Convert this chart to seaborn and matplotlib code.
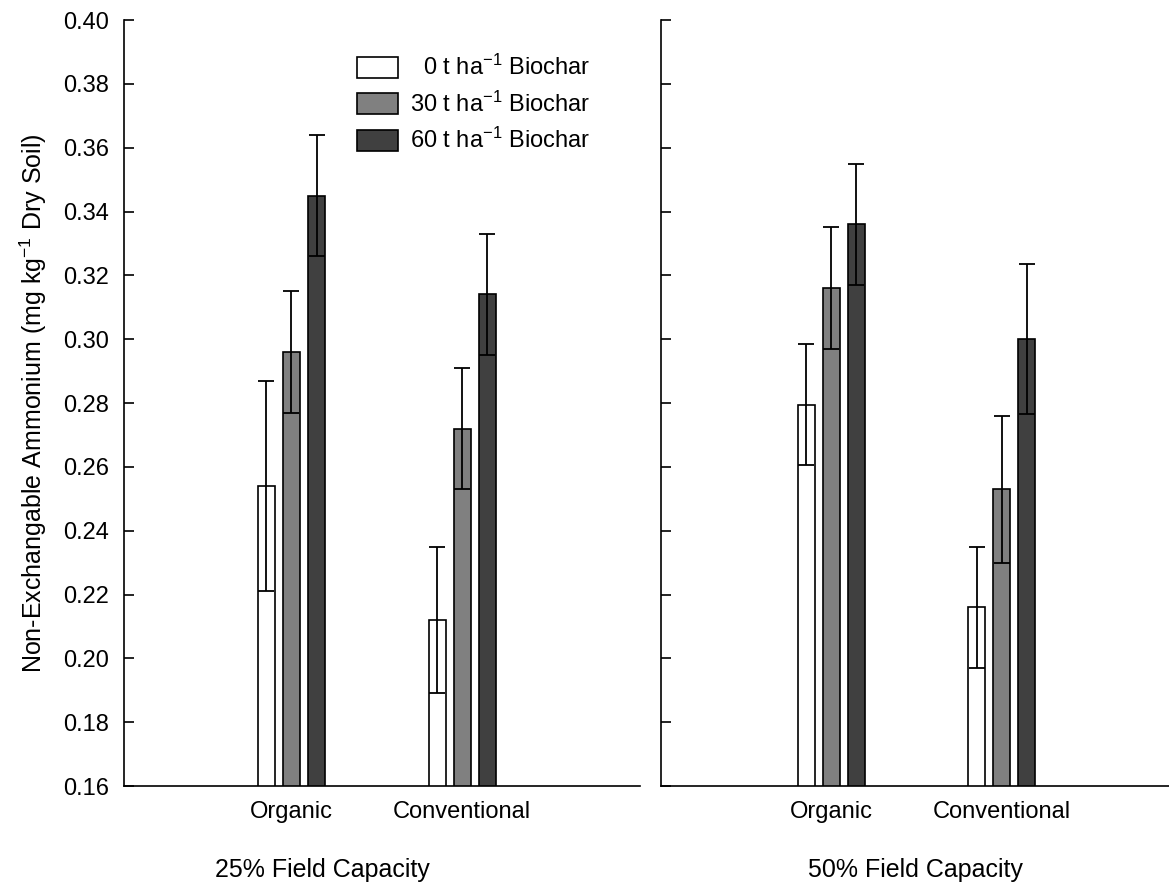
import numpy as np
import pandas as pd
import matplotlib
matplotlib.use('Agg')
import matplotlib.pyplot as plt
import matplotlib.patches as mpatches
import seaborn as sns

systems = ['Organic', 'Conventional']
rates = ['  0 t ha$^{-1}$ Biochar', '30 t ha$^{-1}$ Biochar', '60 t ha$^{-1}$ Biochar']
panels = ['25% Field Capacity', '50% Field Capacity']
colors = ['#ffffff', '#808080', '#404040']

# rows = biochar rate, cols = Organic, Conventional
mean_25 = [[0.254, 0.212], [0.296, 0.272], [0.345, 0.314]]
err_25 = [[0.033, 0.023], [0.019, 0.019], [0.019, 0.019]]
mean_50 = [[0.2795, 0.216], [0.316, 0.253], [0.336, 0.300]]
err_50 = [[0.019, 0.019], [0.019, 0.023], [0.019, 0.0235]]

sns.set_style('ticks')
plt.rcParams['font.family'] = ['Liberation Sans', 'DejaVu Sans']
plt.rcParams['mathtext.fontset'] = 'custom'
plt.rcParams['mathtext.rm'] = 'Liberation Sans'
plt.rcParams['mathtext.it'] = 'Liberation Sans:italic'
plt.rcParams['text.color'] = 'black'
plt.rcParams['axes.labelcolor'] = 'black'
plt.rcParams['xtick.color'] = 'black'
plt.rcParams['ytick.color'] = 'black'
fs = 17

fig = plt.figure(figsize=(11.69, 8.88), dpi=100)
W, H = 1169, 888
ax1 = fig.add_axes([124 / W, 1 - 786 / H, (640 - 124) / W, (786 - 20) / H])
ax2 = fig.add_axes([661 / W, 1 - 786 / H, (1169 - 661) / W, (786 - 20) / H])

for ax, means, errs in [(ax1, mean_25, err_25), (ax2, mean_50, err_50)]:
    rows = []
    for k, r in enumerate(rates):
        for j, s in enumerate(systems):
            rows.append({'system': s, 'rate': r, 'value': means[k][j]})
    df = pd.DataFrame(rows)
    sns.barplot(data=df, x='system', y='value', hue='rate', order=systems,
                hue_order=rates, palette=colors, saturation=1, width=0.44,
                gap=0.32, edgecolor='black', linewidth=1.2, errorbar=None,
                legend=False, ax=ax)
    bar_groups = list(ax.containers)
    for k, cont in enumerate(bar_groups):
        for j, bar in enumerate(cont):
            xc = bar.get_x() + bar.get_width() / 2
            ax.errorbar(xc, means[k][j], yerr=errs[k][j], fmt='none',
                        ecolor='black', elinewidth=1.3, capsize=6,
                        capthick=1.3, zorder=5)
    ax.set_ylim(0.16, 0.40)
    ax.set_yticks(np.arange(0.16, 0.401, 0.02))
    ax.set_xlabel('')
    ax.set_ylabel('')
    sns.despine(ax=ax)
    for sp in ['left', 'bottom']:
        ax.spines[sp].set_linewidth(1.2)
        ax.spines[sp].set_color('black')
    ax.tick_params(axis='y', direction='in', length=7, width=1.2, pad=11,
                   labelsize=fs, colors='black')
    ax.tick_params(axis='x', direction='in', length=4, width=1.2, pad=11,
                   labelsize=fs, colors='black')

ax1.set_xlim(-0.98, 2.04)
ax2.set_xlim(-1.0, 1.98)
ax1.yaxis.set_major_formatter(matplotlib.ticker.FormatStrFormatter('%.2f'))
ax2.tick_params(axis='y', labelleft=False)

ax1.set_ylabel('Non-Exchangable Ammonium (mg kg$^{-1}$ Dry Soil)', fontsize=18,
               color='black')
ax1.yaxis.set_label_coords(-0.145, 0.5)

handles = [mpatches.Patch(facecolor=c, edgecolor='black', linewidth=1.2)
           for c in colors]
fig.legend(handles, rates, loc='upper left', bbox_to_anchor=(357 / W, 1 - 55 / H),
           frameon=False, fontsize=fs, handlelength=1.74, handleheight=0.98,
           handletextpad=0.5, labelspacing=0.48, borderpad=0, borderaxespad=0,
           labelcolor='black')

fig.text(322 / W, 1 - 870 / H, panels[0], ha='center', va='center', fontsize=18)
fig.text(915 / W, 1 - 870 / H, panels[1], ha='center', va='center', fontsize=18)

fig.savefig('out.png', dpi=100)
